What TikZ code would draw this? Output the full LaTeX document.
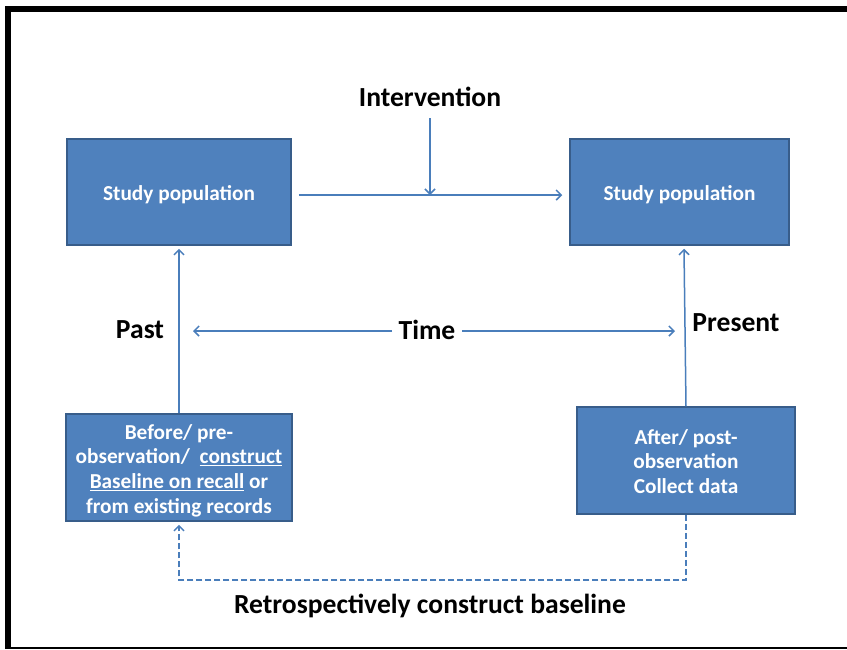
\documentclass[tikz,border=0pt]{standalone}
\usepackage{fontspec}
\setmainfont{Carlito}
\usetikzlibrary{arrows.meta,calc}
\definecolor{boxfill}{HTML}{4F81BD}
\definecolor{boxline}{HTML}{385D8A}
\definecolor{arrowc}{HTML}{4A7EBB}
\tikzset{
  box/.style={draw=boxline, line width=1.5pt, fill=boxfill, text=white, font=\fontsize{21.3}{24.8}\selectfont\bfseries, align=center, inner sep=2pt},
  conn/.style={draw=arrowc, line width=1.5pt, -{Straight Barb[length=5pt,width=10pt,line width=1.5pt]}},
  lbl/.style={font=\fontsize{27.6}{30}\selectfont\bfseries, text=black, inner sep=1pt}
}
\begin{document}
\begin{tikzpicture}[x=1pt,y=-1pt]
\useasboundingbox (0,0) rectangle (847,649);
% frame
\fill[black] (5,6) rectangle (11,648);
\fill[black] (5,6) rectangle (847,12);
\fill[black] (5,646.8) rectangle (847,648.6);
% boxes
\node[box, minimum width=224pt, minimum height=106pt, text height=21pt, text depth=4.5pt] (tl) at (179,192) {Study population};
\node[box, minimum width=219pt, minimum height=106pt, text height=21pt, text depth=4.5pt] (tr) at (679.5,192) {Study population};
\node[box, minimum width=226pt, minimum height=107pt] (bl) at (179,467.5) {\rule{0pt}{21pt}Before/ pre-\\observation/\ \ \underline{construct}\\\underline{Baseline on recall} or\\from existing records};
\node[box, minimum width=218pt, minimum height=107pt] (br) at (686,460.5) {\rule{0pt}{17pt}After/ post-\\observation\\Collect data};
% labels
\node[lbl] (int) at (430,97) {Intervention};
\node[lbl] (time) at (427,330) {Time};
\node[lbl] (past) at (140,330) {Past};
\node[lbl] (pres) at (736,323) {Present};
\node[lbl] (retro) at (430,606) {Retrospectively construct baseline};
% connectors
\coordinate (j) at (430,195);
\draw[conn] ($(tl.east)+(7,3)$) -- ($(tr.west)+(-7,3)$);
\draw[conn] (430,118) -- (j);
\draw[conn] (bl.north) -- ($(tl.south)+(0,3)$);
\draw[conn] (br.north) -- ($(tr.south)+(4.5,3)$);
\draw[conn] (392,331) -- (193,331);
\draw[conn] (462,331) -- (675,331);
\draw[conn, dashed, dash pattern=on 6pt off 3pt] (br.south) -- (686,580) -| ($(bl.south)+(0,3)$);
\end{tikzpicture}
\end{document}
